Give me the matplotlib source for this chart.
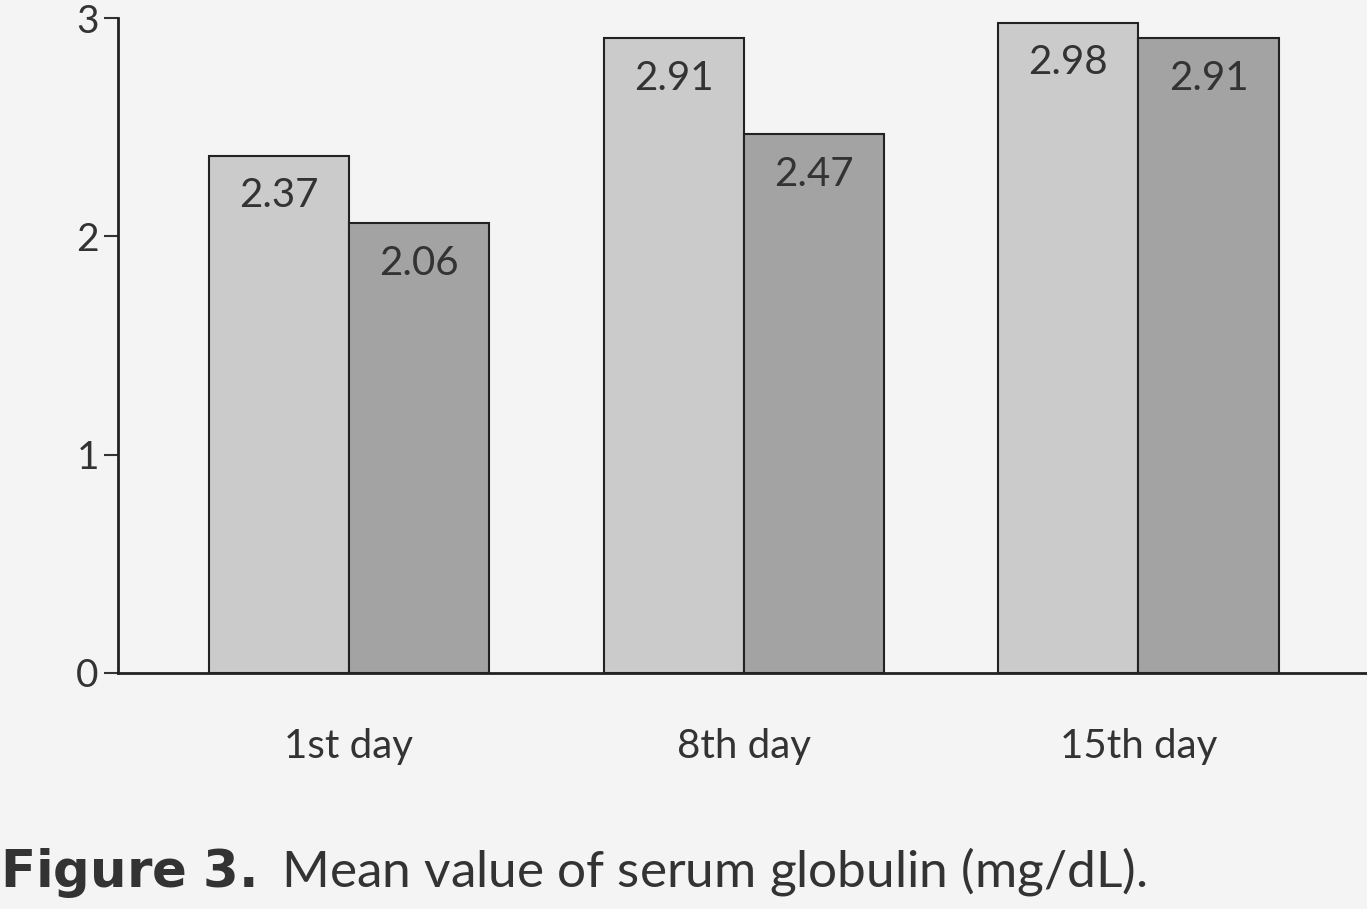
import matplotlib
matplotlib.use("Agg")
import matplotlib.pyplot as plt
import numpy as np

categories = ["1st day", "8th day", "15th day"]
series_a = [2.37, 2.91, 2.98]
series_b = [2.06, 2.47, 2.91]
yticks = [0, 1, 2, 3]

plt.rcParams["font.family"] = "Lato"
fig = plt.figure(figsize=(13.67, 9.09), dpi=100, facecolor="#f4f4f4")
ax = fig.add_axes([0.086, 0.26, 0.914, 0.72], facecolor="#f4f4f4")
x = np.arange(len(categories))
w = 0.355
ba = ax.bar(x - w/2, series_a, w, color="#cbcbcb", edgecolor="#222222", linewidth=1.5)
bb = ax.bar(x + w/2, series_b, w, color="#a3a3a3", edgecolor="#222222", linewidth=1.5)
for bars, vals in ((ba, series_a), (bb, series_b)):
    for r, v in zip(bars, vals):
        ax.text(r.get_x() + r.get_width()/2, v - 0.1, f"{v:.2f}", ha="center", va="top",
                fontsize=29, color="#333333")
ax.set_xlim(-0.586, 2.579)
ax.set_ylim(0, 3)
ax.set_yticks(yticks)
ax.set_xticks(x)
ax.set_xticklabels(categories)
ax.tick_params(axis="y", labelsize=28, length=10, width=1.5, colors="#333333")
ax.tick_params(axis="x", labelsize=29, length=0, pad=40, colors="#333333")
for s in ("top", "right"):
    ax.spines[s].set_visible(False)
for s in ("left", "bottom"):
    ax.spines[s].set_linewidth(2)
    ax.spines[s].set_color("#222222")
fig.text(0.0, 0.04, r"$\bf{Figure\ 3.}$ Mean value of serum globulin (mg/dL).", fontsize=37,
         color="#333333", ha="left", va="center")
fig.savefig("out.png", dpi=100, facecolor=fig.get_facecolor())
